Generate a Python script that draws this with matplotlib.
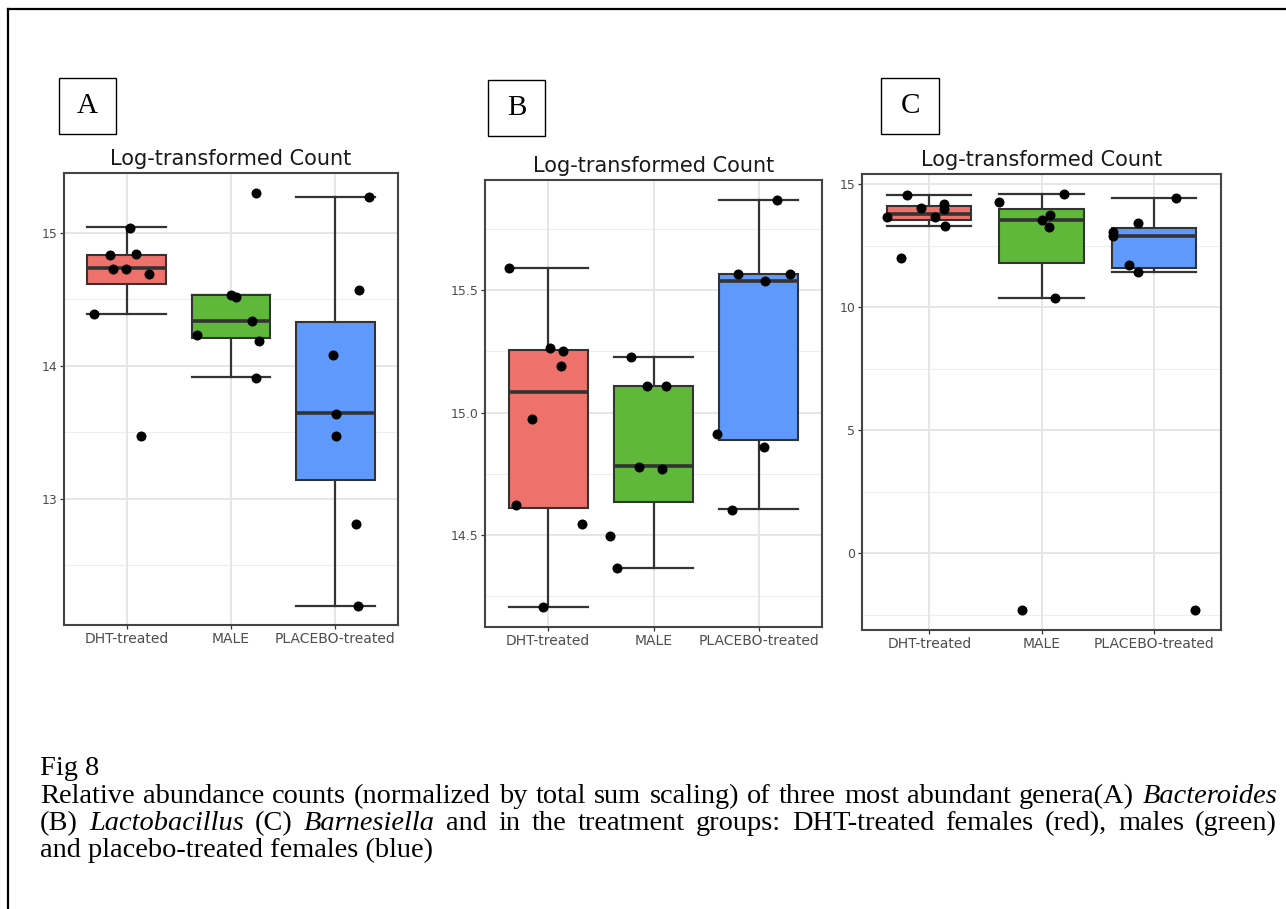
import matplotlib
matplotlib.use("Agg")
import matplotlib.pyplot as plt
from matplotlib.lines import Line2D
import numpy as np

W, H = 1286, 909

# ---------------- data ----------------
groups = ["DHT-treated", "MALE", "PLACEBO-treated"]
fills = ["#EE716B", "#5FB83A", "#5E99FB"]
panel_labels = ["A", "B", "C"]
title = "Log-transformed Count"

# Panel A (Bacteroides)
A_q1 = [14.616, 14.206, 13.142]
A_med = [14.733, 14.337, 13.641]
A_q3 = [14.833, 14.535, 14.326]
A_lo = [14.393, 13.914, 12.195]
A_hi = [15.042, 14.535, 15.273]
A_pts_y = [[15.04, 14.83, 14.84, 14.73, 14.73, 14.69, 14.39, 13.47],
           [14.535, 14.52, 15.30, 14.34, 14.23, 14.19, 13.91],
           [15.27, 14.57, 14.08, 13.64, 13.47, 12.81, 12.195]]
A_pts_jx = [[0.03, -0.16, 0.09, -0.13, -0.01, 0.21, -0.31, 0.14],
            [0.0, 0.05, 0.24, 0.20, -0.33, 0.27, 0.24],
            [0.32, 0.23, -0.02, 0.01, 0.01, 0.20, 0.22]]
A_ylim = (12.05, 15.45)
A_ticks = [13, 14, 15]
A_minor = [12.5, 13.5, 14.5]

# Panel B (Lactobacillus)
B_q1 = [14.61, 14.635, 14.888]
B_med = [15.085, 14.782, 15.539]
B_q3 = [15.254, 15.109, 15.566]
B_lo = [14.208, 14.365, 14.605]
B_hi = [15.59, 15.227, 15.869]
B_pts_y = [[15.59, 15.263, 15.25, 15.191, 14.975, 14.624, 14.546, 14.208],
           [15.227, 15.109, 15.109, 14.779, 14.77, 14.497, 14.365],
           [15.869, 15.566, 15.566, 15.539, 14.915, 14.858, 14.602]]
B_pts_jx = [[-0.37, 0.02, 0.14, 0.12, -0.15, -0.31, 0.32, -0.05],
            [-0.21, -0.06, 0.12, -0.14, 0.08, -0.41, -0.35],
            [0.17, -0.20, 0.30, 0.06, -0.40, 0.05, -0.25]]
B_ylim = (14.125, 15.95)
B_ticks = [14.5, 15.0, 15.5]
B_minor = [14.25, 14.75, 15.25, 15.75]

# Panel C (Barnesiella)
C_q1 = [13.55, 11.81, 11.58]
C_med = [13.80, 13.56, 12.90]
C_q3 = [14.10, 14.00, 13.22]
C_lo = [13.29, 10.37, 11.41]
C_hi = [14.55, 14.58, 14.42]
C_pts_y = [[14.55, 14.04, 14.21, 14.00, 13.68, 13.68, 13.29, 12.01],
           [14.58, 14.27, 13.75, 13.53, 13.25, 10.37, -2.30],
           [14.42, 13.42, 13.05, 12.88, 11.71, 11.41, -2.30]]
C_pts_jx = [[-0.20, -0.07, 0.13, 0.13, -0.38, 0.05, 0.14, -0.25],
            [0.20, -0.38, 0.08, 0.0, 0.07, 0.12, -0.17],
            [0.20, -0.14, -0.36, -0.36, -0.22, -0.14, 0.37]]
C_ylim = (-3.11, 15.41)
C_ticks = [0, 5, 10, 15]
C_minor = [-2.5, 2.5, 7.5, 12.5]

caption_head = "Fig 8"
caption_line1 = [("Relative", "normal"), ("abundance", "normal"), ("counts", "normal"),
                 ("(normalized", "normal"), ("by", "normal"), ("total", "normal"),
                 ("sum", "normal"), ("scaling)", "normal"), ("of", "normal"),
                 ("three", "normal"), ("most", "normal"), ("abundant", "normal"),
                 ("genera(A)", "normal"), ("Bacteroides", "italic")]
caption_line2 = [("(B)", "normal"), ("Lactobacillus", "italic"), ("(C)", "normal"),
                 ("Barnesiella", "italic"), ("and", "normal"), ("in", "normal"),
                 ("the", "normal"), ("treatment", "normal"), ("groups:", "normal"),
                 ("DHT-treated", "normal"), ("females", "normal"), ("(red),", "normal"),
                 ("males", "normal"), ("(green)", "normal")]
caption_line3 = "and placebo-treated females (blue)"

# ---------------- layout ----------------
fig = plt.figure(figsize=(W / 100, H / 100), dpi=100)
fig.patch.set_facecolor("white")


def rect(x0, y0, x1, y1):
    return [x0 / W, 1 - y1 / H, (x1 - x0) / W, (y1 - y0) / H]


# outer border (top and left)
fig.add_artist(Line2D([8 / W, 1.0], [1 - 9 / H, 1 - 9 / H], transform=fig.transFigure,
                      color="black", lw=1.6))
fig.add_artist(Line2D([8 / W, 8 / W], [1 - 9 / H, 0.0], transform=fig.transFigure,
                      color="black", lw=1.6))

panels = [
    dict(r=(64, 173, 398, 625), q1=A_q1, med=A_med, q3=A_q3, lo=A_lo, hi=A_hi,
         py=A_pts_y, px=A_pts_jx, ylim=A_ylim, ticks=A_ticks, minor=A_minor,
         tlabels=["13", "14", "15"], box=(59, 78, 116, 134)),
    dict(r=(485, 180, 822, 627), q1=B_q1, med=B_med, q3=B_q3, lo=B_lo, hi=B_hi,
         py=B_pts_y, px=B_pts_jx, ylim=B_ylim, ticks=B_ticks, minor=B_minor,
         tlabels=["14.5", "15.0", "15.5"], box=(488, 80, 545, 136)),
    dict(r=(862, 174, 1221, 630), q1=C_q1, med=C_med, q3=C_q3, lo=C_lo, hi=C_hi,
         py=C_pts_y, px=C_pts_jx, ylim=C_ylim, ticks=C_ticks, minor=C_minor,
         tlabels=["0", "5", "10", "15"], box=(881, 78, 939, 134)),
]

edge = "#333333"
for i, p in enumerate(panels):
    ax = fig.add_axes(rect(*p["r"]))
    ax.set_xlim(0.4, 3.6)
    ax.set_ylim(*p["ylim"])
    ax.set_facecolor("white")
    # grid
    for m in p["minor"]:
        ax.axhline(m, color="#EEEEEE", lw=0.8, zorder=0)
    for t in p["ticks"]:
        ax.axhline(t, color="#E6E6E6", lw=1.4, zorder=0)
    for xpos in [1, 2, 3]:
        ax.axvline(xpos, color="#E6E6E6", lw=1.4, zorder=0)

    stats = []
    for k in range(3):
        stats.append(dict(med=p["med"][k], q1=p["q1"][k], q3=p["q3"][k],
                          whislo=p["lo"][k], whishi=p["hi"][k], fliers=[]))
    bp = ax.bxp(stats, positions=[1, 2, 3], widths=0.75, capwidths=0.75,
                patch_artist=True, showfliers=False, manage_ticks=False,
                boxprops=dict(edgecolor=edge, linewidth=1.5),
                medianprops=dict(color=edge, linewidth=2.6),
                whiskerprops=dict(color=edge, linewidth=1.6),
                capprops=dict(color=edge, linewidth=1.6))
    for patch, fc in zip(bp["boxes"], fills):
        patch.set_facecolor(fc)
        patch.set_zorder(3)
    for med in bp["medians"]:
        med.set_zorder(4)

    for k in range(3):
        xs = (k + 1) + np.array(p["px"][k])
        ax.scatter(xs, p["py"][k], s=52, color="black", zorder=6, linewidths=0)

    ax.set_xticks([1, 2, 3])
    ax.set_xticklabels(groups)
    ax.set_yticks(p["ticks"])
    ax.set_yticklabels(p["tlabels"])
    ax.tick_params(axis="both", length=3, width=0.9, color=edge, labelcolor="#4D4D4D",
                   labelsize=9, pad=2)
    for lab in ax.get_xticklabels():
        lab.set_fontsize(10)
    for s in ax.spines.values():
        s.set_color("#444444")
        s.set_linewidth(1.5)
    ax.set_title(title, fontsize=15, color="#1A1A1A", pad=6)

    # panel letter box
    bx0, by0, bx1, by1 = p["box"]
    fig.patches.append(plt.Rectangle((bx0 / W, 1 - by1 / H), (bx1 - bx0) / W, (by1 - by0) / H,
                                     transform=fig.transFigure, fill=False,
                                     edgecolor="black", lw=1.0))
    fig.text((bx0 + bx1) / 2 / W, 1 - (by0 + by1) / 2 / H, panel_labels[i],
             fontsize=21, family="Liberation Serif", ha="center", va="center")

# ---------------- caption ----------------
cap_fs = 20.4
fig.text(40 / W, 1 - 775 / H, caption_head, fontsize=cap_fs, family="Liberation Serif",
         va="baseline", ha="left")

renderer = fig.canvas.get_renderer()


def justified(tokens, ybase, x0=40, x1=1277):
    arts = []
    widths = []
    for word, st in tokens:
        t = fig.text(0, 1 - ybase / H, word, fontsize=cap_fs, family="Liberation Serif",
                     style=st, va="baseline", ha="left")
        bb = t.get_window_extent(renderer=renderer)
        arts.append(t)
        widths.append(bb.width)
    gap = (x1 - x0 - sum(widths)) / (len(tokens) - 1)
    x = x0
    for t, w in zip(arts, widths):
        t.set_x(x / W)
        x += w + gap


justified(caption_line1, 803)
justified(caption_line2, 830)
fig.text(40 / W, 1 - 857 / H, caption_line3, fontsize=cap_fs, family="Liberation Serif",
         va="baseline", ha="left")

fig.savefig("out.png", dpi=100, facecolor="white")
